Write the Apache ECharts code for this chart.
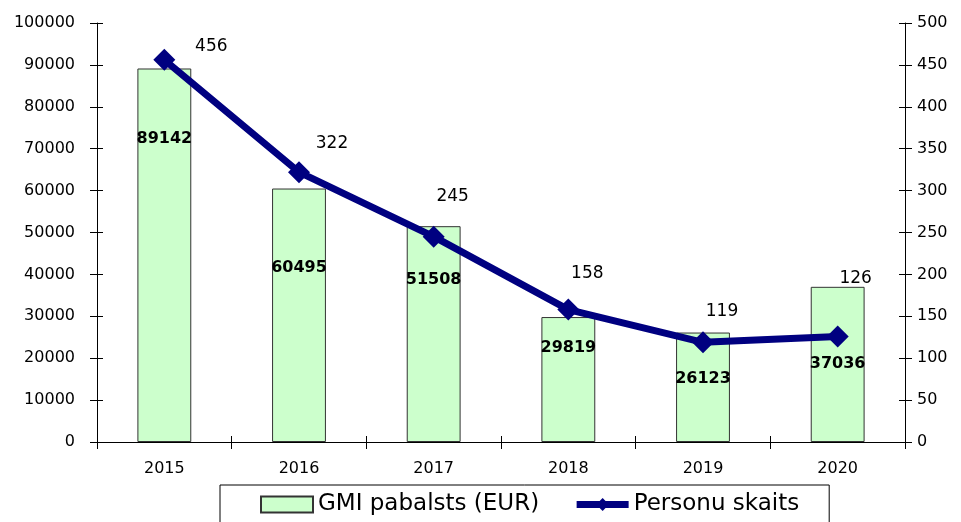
<!DOCTYPE html>
<html>
<head>
<meta charset="utf-8">
<script src="https://cdn.jsdelivr.net/npm/echarts@6/dist/echarts.min.js"></script>
<style>
  html, body { margin: 0; padding: 0; background: #fff; }
  #chart { width: 961px; height: 522px; }
</style>
</head>
<body>
<div id="chart"></div>
<script>
  // data
  var years = ['2015', '2016', '2017', '2018', '2019', '2020'];
  var gmiValues = [89142, 60495, 51508, 29819, 26123, 37036];
  var personValues = [456, 322, 245, 158, 119, 126];
  var leftTicks = { min: 0, max: 100000, interval: 10000 };
  var rightTicks = { min: 0, max: 500, interval: 50 };

  // label nudges (style only)
  var barLabelDy = [57, 66, 41, 18, 33, 64];
  var lineLabelShift = [[47, 11], [33, -4], [19, -16], [19, -12], [19, -6], [18, -33]];

  var font = 'DejaVu Sans';

  // extra axes only draw the inner half of the crossing tick marks
  function innerTicks(axis) {
    return Object.assign({
      axisLine: { show: false },
      axisTick: { show: true, inside: true, length: 6, lineStyle: { color: '#000' } },
      axisLabel: { show: false },
      splitLine: { show: false }
    }, axis);
  }

  var chart = echarts.init(document.getElementById('chart'));
  var option = {
    animation: false,
    textStyle: { fontFamily: font, color: '#000' },
    grid: { left: 97, right: 56, top: 23, bottom: 80 },
    legend: {
      left: 220,
      top: 485,
      padding: [8, 30, 20, 40],
      borderColor: '#000',
      borderWidth: 1,
      itemGap: 34,
      itemWidth: 52,
      itemHeight: 16,
      textStyle: { fontFamily: font, fontSize: 23, color: '#000' },
      data: [
        { name: 'GMI pabalsts (EUR)', icon: 'rect' },
        { name: 'Personu skaits', lineStyle: { width: 7 } }
      ]
    },
    xAxis: [
      {
        type: 'category',
        data: years,
        boundaryGap: true,
        axisLine: { lineStyle: { color: '#000', width: 1 } },
        axisTick: { show: true, length: 7, lineStyle: { color: '#000' } },
        axisLabel: { fontSize: 16, color: '#000', margin: 19, fontFamily: font }
      },
      innerTicks({ type: 'category', data: years, boundaryGap: true, position: 'bottom' })
    ],
    yAxis: [
      {
        type: 'value',
        min: leftTicks.min, max: leftTicks.max, interval: leftTicks.interval,
        axisLine: { show: true, lineStyle: { color: '#000' } },
        axisTick: { show: true, length: 7, lineStyle: { color: '#000' } },
        axisLabel: {
          fontSize: 16, color: '#000', margin: 22, fontFamily: font,
          formatter: function (v) { return String(v); }
        },
        splitLine: { show: false }
      },
      {
        type: 'value',
        min: rightTicks.min, max: rightTicks.max, interval: rightTicks.interval,
        position: 'right',
        axisLine: { show: true, lineStyle: { color: '#000' } },
        axisTick: { show: true, length: 7, lineStyle: { color: '#000' } },
        axisLabel: { fontSize: 16, color: '#000', margin: 12, fontFamily: font },
        splitLine: { show: false }
      },
      innerTicks({ type: 'value', position: 'left', min: leftTicks.min, max: leftTicks.max, interval: leftTicks.interval }),
      innerTicks({ type: 'value', position: 'right', min: rightTicks.min, max: rightTicks.max, interval: rightTicks.interval })
    ],
    series: [
      {
        name: 'GMI pabalsts (EUR)',
        type: 'bar',
        yAxisIndex: 0,
        barWidth: '40%',
        itemStyle: { color: '#ccffcc', borderColor: '#333', borderWidth: 1 },
        data: gmiValues.map(function (v, i) {
          return {
            value: v,
            label: { offset: [0, barLabelDy[i]] }
          };
        }),
        label: {
          show: true,
          position: 'insideTop',
          fontSize: 16,
          fontWeight: 'bold',
          color: '#000',
          fontFamily: font
        },
        z: 1
      },
      {
        name: 'Personu skaits',
        type: 'line',
        yAxisIndex: 1,
        symbol: 'diamond',
        symbolSize: 22,
        lineStyle: { color: '#000080', width: 7 },
        itemStyle: { color: '#000080' },
        data: personValues.map(function (v, i) {
          return {
            value: v,
            label: { offset: lineLabelShift[i] }
          };
        }),
        label: {
          show: true,
          position: 'top',
          fontSize: 17,
          color: '#000',
          fontFamily: font
        },
        z: 3
      }
    ]
  };
  chart.setOption(option);
</script>
</body>
</html>
